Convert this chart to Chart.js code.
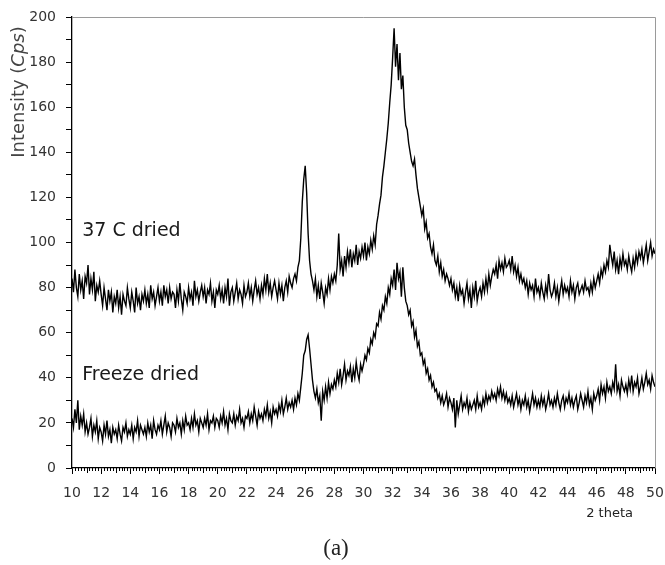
<!DOCTYPE html>
<html>
<head>
<meta charset="utf-8">
<script src="https://cdn.jsdelivr.net/npm/chart.js@4.4.1/dist/chart.umd.min.js"></script>
<style>
  body { margin: 0; background: #fff; }
</style>
</head>
<body>
<canvas id="xrd" width="665" height="565"></canvas>
<script>
// 2 theta sampling: 10.0 .. 50.0, one reading every 0.1 degree
const thetaStart = 10;
const thetaStep = 0.1;

// 37 C dried (one row = one degree)
const dried37 = [
  84,78,88,80,76,86,79,83,75,85,
  82,90,77,84,79,87,74,81,78,83,
  77,72,80,75,70,79,74,78,69,76,
  73,79,71,76,68,77,74,72,80,75,
  71,78,74,69,80,73,76,70,77,74,
  79,73,77,71,81,75,78,72,76,80,
  74,78,72,81,76,79,73,80,75,78,
  77,71,79,74,82,75,70,78,76,73,
  80,75,78,72,83,76,79,74,78,81,
  76,80,73,79,77,82,74,78,71,79,
  77,81,75,79,73,80,76,84,72,78,
  80,74,78,82,75,79,77,73,81,76,
  78,82,76,80,74,79,83,77,80,75,
  81,77,84,79,86,78,82,76,80,83,
  79,75,82,77,81,74,80,83,78,85,
  82,80,84,86,83,89,92,102,118,128,
  134,122,104,92,86,83,79,84,76,81,
  75,82,78,73,80,77,84,79,85,82,
  86,83,90,104,88,92,85,94,89,96,
  91,97,89,95,92,99,90,96,93,98,
  94,100,92,98,95,101,97,103,99,108,
  112,117,121,129,134,140,146,153,162,170,
  182,195,178,188,172,184,168,174,160,152,
  150,144,140,136,134,137,130,124,120,116,
  112,115,106,109,102,104,98,95,99,92,
  90,94,87,91,85,88,83,86,84,81,
  84,79,82,76,80,74,81,77,79,73,
  78,82,75,79,71,80,76,83,74,78,
  80,76,82,78,84,79,86,81,85,88,
  86,90,84,92,88,91,87,93,89,90,
  92,88,94,87,90,85,89,83,86,82,
  84,80,83,77,82,79,81,76,84,78,
  80,76,82,78,75,81,77,86,79,76,
  78,82,76,80,74,79,83,77,81,78,
  80,76,83,78,81,75,80,82,77,79,
  81,78,83,79,80,77,82,78,84,80,
  83,86,82,88,85,90,87,92,89,99,
  94,90,96,88,92,86,93,89,95,90,
  92,88,94,90,87,93,89,95,91,96,
  93,97,91,95,99,92,96,100,94,97,
  95
];

// Freeze dried
const freezeDried = [
  22,18,26,20,30,17,23,19,24,16,
  20,15,18,22,14,19,16,21,13,18,
  16,12,19,15,21,14,17,11,18,15,
  17,13,19,15,12,18,16,20,14,17,
  15,19,13,18,16,21,14,19,17,15,
  18,14,20,16,19,13,21,17,15,19,
  17,21,15,19,23,16,20,18,14,20,
  19,16,22,18,20,15,21,17,23,19,
  20,17,22,18,24,19,21,16,22,20,
  18,22,19,24,17,21,20,23,18,22,
  21,18,23,20,25,19,22,17,24,21,
  20,24,19,23,21,26,20,22,18,23,
  22,25,20,24,21,27,23,19,25,22,
  24,21,26,23,28,22,25,20,27,24,
  26,23,28,25,30,24,27,31,26,29,
  27,30,26,31,28,33,30,36,42,50,
  52,57,59,53,46,39,34,31,35,29,
  32,21,34,30,36,31,38,33,37,35,
  39,36,42,38,44,37,41,46,39,43,
  41,45,38,44,40,47,42,39,46,43,
  46,50,48,53,51,57,55,60,58,64,
  63,69,66,72,70,76,73,80,77,84,
  81,88,79,91,84,87,76,89,80,74,
  72,68,70,63,65,58,61,54,56,50,
  51,46,48,42,44,39,41,36,38,34,
  35,31,33,29,32,28,30,33,27,31,
  29,26,31,18,30,24,28,32,26,29,
  27,31,25,29,26,28,30,26,32,27,
  29,26,31,28,33,29,32,30,34,31,
  33,30,35,32,36,31,34,30,33,29,
  31,28,32,27,30,33,28,31,26,30,
  28,32,27,30,25,29,33,28,31,27,
  30,27,32,28,31,26,29,33,28,30,
  27,31,28,33,29,26,30,32,27,31,
  29,33,28,31,27,30,32,26,29,33,
  30,27,32,29,34,28,31,26,33,30,
  32,35,30,37,33,36,31,38,34,36,
  33,38,35,46,34,37,32,39,36,34,
  37,33,39,35,41,34,38,36,40,33,
  36,40,35,38,42,37,39,35,41,38,
  36
];

const seriesNames = ['37 C dried', 'Freeze dried'];
const labelAnchors = [[10.7, 103], [10.7, 39]]; // where each series name sits (data units)

const toPoints = arr => arr.map((v, i) => ({ x: +(thetaStart + i * thetaStep).toFixed(1), y: v }));

const FONT = '"DejaVu Sans", sans-serif';

// extra drawing: minor ticks, frame, series names, axis titles, panel letter
const decorations = {
  id: 'decorations',
  afterDraw(chart) {
    const { ctx, chartArea: a, scales: { x, y } } = chart;
    ctx.save();

    // grey frame on top and right
    ctx.strokeStyle = '#9a9a9a';
    ctx.lineWidth = 1;
    ctx.beginPath();
    ctx.moveTo(a.left, a.top + 0.5);
    ctx.lineTo(a.right + 0.5, a.top + 0.5);
    ctx.lineTo(a.right + 0.5, a.bottom);
    ctx.stroke();

    // minor ticks on 2 theta axis
    ctx.strokeStyle = '#000';
    ctx.beginPath();
    for (let k = 0; k <= 200; k++) {
      if (k % 10 === 0) continue;
      const px = Math.round(x.getPixelForValue(10 + k * 0.2)) + 0.5;
      const len = k % 5 === 0 ? 5 : 3;
      ctx.moveTo(px, a.bottom);
      ctx.lineTo(px, a.bottom + len);
    }
    ctx.stroke();

    // series names
    ctx.fillStyle = '#1a1a1a';
    ctx.font = '19px ' + FONT;
    ctx.textAlign = 'left';
    ctx.textBaseline = 'alphabetic';
    seriesNames.forEach((name, i) => {
      ctx.fillText(name, x.getPixelForValue(labelAnchors[i][0]), y.getPixelForValue(labelAnchors[i][1]));
    });

    // y title with italic Cps
    ctx.translate(24, 92);
    ctx.rotate(-Math.PI / 2);
    ctx.fillStyle = '#444';
    const parts = [['Intensity (', ''], ['Cps', 'italic '], [')', '']];
    let total = 0;
    parts.forEach(p => { ctx.font = p[1] + '18px ' + FONT; total += ctx.measureText(p[0]).width; });
    let cx = -total / 2;
    parts.forEach(p => {
      ctx.font = p[1] + '18px ' + FONT;
      ctx.fillText(p[0], cx, 0);
      cx += ctx.measureText(p[0]).width;
    });
    ctx.setTransform(1, 0, 0, 1, 0, 0);

    // x title
    ctx.fillStyle = '#222';
    ctx.font = '13px ' + FONT;
    ctx.textAlign = 'right';
    ctx.fillText('2 theta', 633, 517);

    // panel letter
    ctx.font = '23px "Liberation Serif", "DejaVu Serif", serif';
    ctx.textAlign = 'center';
    ctx.fillText('(a)', 336, 555);

    ctx.restore();
  }
};

new Chart(document.getElementById('xrd'), {
  type: 'line',
  data: {
    datasets: [
      { label: seriesNames[0], data: toPoints(dried37) },
      { label: seriesNames[1], data: toPoints(freezeDried) }
    ]
  },
  options: {
    responsive: false,
    animation: false,
    layout: { padding: { left: 0, right: 10, top: 17, bottom: 67 } },
    elements: {
      line: { borderColor: '#000', borderWidth: 1.4, tension: 0 },
      point: { radius: 0 }
    },
    plugins: {
      legend: { display: false },
      tooltip: { enabled: false }
    },
    scales: {
      x: {
        type: 'linear',
        min: 10,
        max: 50,
        afterFit: s => { s.height = 30; s.paddingLeft = 0; s.paddingRight = 0; },
        border: { color: '#000', width: 1.3 },
        grid: { drawOnChartArea: false, tickLength: 6, tickColor: '#000' },
        ticks: {
          stepSize: 2,
          padding: 11,
          color: '#333',
          font: { family: FONT, size: 14 },
          maxRotation: 0,
          autoSkip: false
        }
      },
      y: {
        min: 0,
        max: 200,
        afterFit: s => { s.width = 72; s.paddingTop = 0; s.paddingBottom = 0; },
        border: { color: '#000', width: 1.3 },
        grid: { drawOnChartArea: false, tickLength: 6, tickColor: '#000' },
        ticks: {
          stepSize: 10,
          padding: 10,
          color: '#333',
          font: { family: FONT, size: 14 },
          callback: v => (v % 20 === 0 ? v : '')
        }
      }
    }
  },
  plugins: [decorations]
});
</script>
</body>
</html>
